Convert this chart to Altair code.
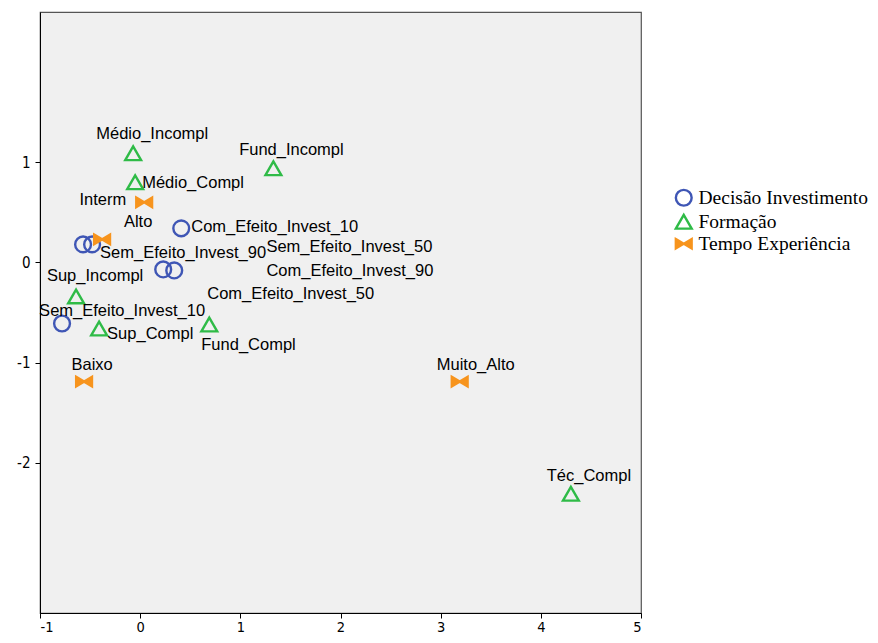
import altair as alt
import pandas as pd

# ---- data ----
nomes = [
    "Com_Efeito_Invest_10", "Sem_Efeito_Invest_10", "Sem_Efeito_Invest_50",
    "Sem_Efeito_Invest_90", "Com_Efeito_Invest_90", "Com_Efeito_Invest_50",
    "Médio_Incompl", "Fund_Incompl", "Médio_Compl", "Sup_Incompl",
    "Sup_Compl", "Fund_Compl", "Téc_Compl",
    "Interm", "Alto", "Baixo", "Muito_Alto",
]
grupos = (["Decisão Investimento"] * 6 + ["Formação"] * 7 + ["Tempo Experiência"] * 4)
dim1 = [0.41, -0.78, -0.57, -0.48, 0.23, 0.34,
        -0.07, 1.33, -0.05, -0.64, -0.41, 0.69, 4.30,
        0.04, -0.38, -0.56, 3.19]
dim2 = [0.34, -0.61, 0.18, 0.18, -0.07, -0.08,
        1.09, 0.94, 0.80, -0.34, -0.66, -0.62, -2.31,
        0.60, 0.23, -1.19, -1.19]

# label anchor (data units) and alignment
rot_x = [0.51, -0.18, 1.26, -0.40, 1.26, 0.67,
         0.12, 1.51, 0.02, -0.45, -0.33, 0.61, 4.48,
         -0.14, -0.02, -0.48, 3.35]
rot_y = [0.35, -0.49, 0.15, 0.09, -0.09, -0.32,
         1.28, 1.12, 0.79, -0.14, -0.71, -0.82, -2.13,
         0.62, 0.40, -1.02, -1.02]
rot_al = ["left", "center", "left", "left", "left", "left",
          "center", "center", "left", "center", "left", "left", "center",
          "right", "center", "center", "center"]

x_ticks = [-1, 0, 1, 2, 3, 4, 5]
y_ticks = [-2, -1, 0, 1]

dominio = ["Decisão Investimento", "Formação", "Tempo Experiência"]
cores = ["#3f56b5", "#2fbb47", "#f7941d"]
preench = ["rgba(0,0,0,0)", "rgba(0,0,0,0)", "#f7941d"]
bowtie = "M-1,-0.6L1,0.6L1,-0.6L-1,0.6Z"
formas = ["circle", "triangle-up", bowtie]

df = pd.DataFrame({"nome": nomes, "grupo": grupos, "x": dim1, "y": dim2,
                   "lx": rot_x, "ly": rot_y, "al": rot_al})

xs = alt.Scale(domain=[-1, 5], nice=False, zero=False)
ys = alt.Scale(domain=[-3.5, 2.5], nice=False, zero=False)

leg = alt.Legend(title=None, orient="none", legendX=634, legendY=176,
                 labelFont="Liberation Serif", labelFontSize=19.5, labelColor="#000",
                 labelLimit=0,
                 symbolSize=250, symbolStrokeWidth=2.4, rowPadding=-1, labelOffset=5)

eixo_fonte = "DejaVu Sans Condensed, Liberation Sans Narrow, Liberation Sans"

base = alt.Chart(df)

pts = base.mark_point(strokeWidth=2.4, size=250, opacity=1).encode(
    x=alt.X("x:Q", scale=xs,
            axis=alt.Axis(values=x_ticks, title=None, grid=False,
                          labelExpr="toString(datum.value)",
                          labelFont=eixo_fonte, labelFontSize=14.5,
                          labelColor="#000", domainColor="#000", tickColor="#000",
                          tickSize=5, labelPadding=2)),
    y=alt.Y("y:Q", scale=ys,
            axis=alt.Axis(values=y_ticks, title=None, grid=False,
                          labelExpr="toString(datum.value)",
                          labelFont=eixo_fonte, labelFontSize=15,
                          labelColor="#000", domainColor="#000", tickColor="#000",
                          tickSize=5, labelPadding=5)),
    stroke=alt.Stroke("grupo:N", scale=alt.Scale(domain=dominio, range=cores), legend=leg),
    fill=alt.Fill("grupo:N", scale=alt.Scale(domain=dominio, range=preench), legend=leg),
    shape=alt.Shape("grupo:N", scale=alt.Scale(domain=dominio, range=formas), legend=leg),
)

def rotulos(al):
    return base.transform_filter(alt.datum.al == al).mark_text(
        align=al, baseline="middle", font="Liberation Sans", fontSize=16.5, color="#000"
    ).encode(
        x=alt.X("lx:Q", scale=xs),
        y=alt.Y("ly:Q", scale=ys),
        text="nome:N",
    )

chart = alt.layer(pts, rotulos("left"), rotulos("center"), rotulos("right")).properties(
    width=601, height=601,
    autosize=alt.AutoSizeParams(type="none"),
    padding={"left": 32, "top": 4, "right": 229, "bottom": 22},
).configure_view(
    fill="#f0f0f0", stroke="#555", strokeWidth=1.2
)

chart.save("out.html", embed_options={"renderer": "svg", "actions": False})
